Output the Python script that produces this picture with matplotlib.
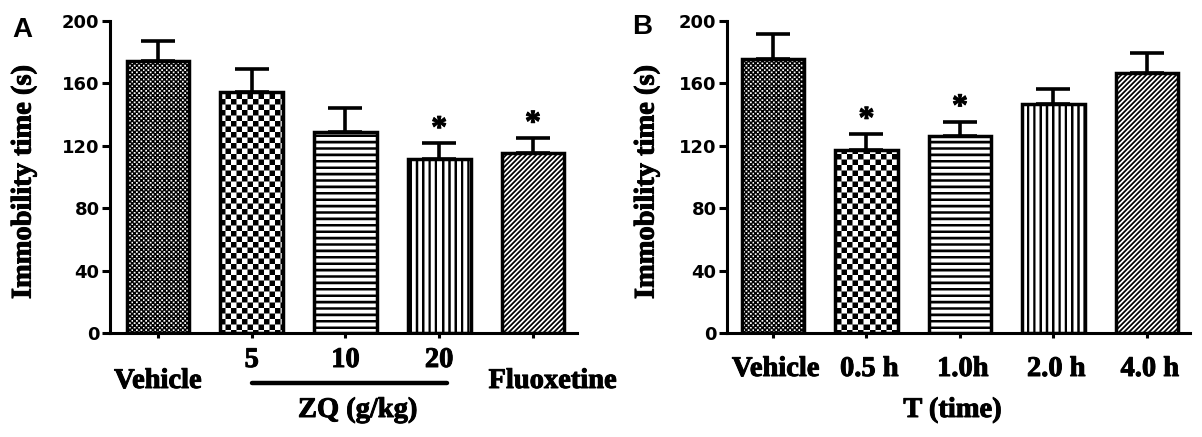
import numpy as np
import matplotlib
matplotlib.use("Agg")
import matplotlib.pyplot as plt
import matplotlib.patheffects as pe
from matplotlib.transforms import blended_transform_factory

# ---- data ----
a_groups = ["Vehicle", "5", "10", "20", "Fluoxetine"]
a_mean = [174.5, 154.5, 129.0, 111.5, 115.5]
a_err = [12.5, 14.5, 15.5, 10.0, 9.5]
a_star = [False, False, False, True, True]

b_groups = ["Vehicle", "0.5 h", "1.0h", "2.0 h", "4.0 h"]
b_mean = [175.5, 117.5, 126.0, 146.5, 166.5]
b_err = [16.0, 10.0, 9.5, 10.0, 13.0]
b_star = [False, True, True, False, False]

fills = ["dots", "checker", "hlines", "vlines", "diag"]
yticks = [0, 40, 80, 120, 160, 200]

W, H = 1202, 437
SERIF = "Liberation Serif"
SANS = "Liberation Sans"
heavy = [pe.withStroke(linewidth=0.7, foreground="black")]


def px_axes(l, r, top, bot):
    return [l / W, 1 - bot / H, (r - l) / W, (bot - top) / H]


def texture(kind, x, y):
    # x, y in pixels (y downward); True where ink
    if kind == "dots":
        c = 2.3
        cx, cy = np.floor(x / c), np.floor(y / c)
        fx, fy = x / c - cx - 0.5, y / c - cy - 0.5
        white = ((cx + cy) % 2 == 0) & (np.abs(fx) < 0.36) & (np.abs(fy) < 0.36)
        return ~white
    if kind == "checker":
        c = 5.5
        return (np.floor(x / c) + np.floor(y / c)) % 2 == 0
    if kind == "hlines":
        return (y % 6.4) < 2.6
    if kind == "vlines":
        return (x % 6.3) < 2.4
    if kind == "diag":
        return ((x + y) % 5.0) < 2.5
    return np.zeros_like(x, dtype=bool)


def fill_bar(ax, bar, kind):
    x0, y0 = bar.get_x(), bar.get_y()
    w, h = bar.get_width(), bar.get_height()
    (px0, py0), (px1, py1) = ax.transData.transform([(x0, y0), (x0 + w, y0 + h)])
    # snap to the pixel grid so the texture is drawn 1:1
    qx0, qx1 = np.floor(px0), np.ceil(px1)
    qy0, qy1 = np.floor(py0), np.ceil(py1)
    ncol, nrow = int(qx1 - qx0), int(qy1 - qy0)
    ss = 4
    xx, yy = np.meshgrid((np.arange(ncol * ss) + 0.5) / ss + qx0,
                         (np.arange(nrow * ss) + 0.5) / ss + (H - qy1))
    ink = texture(kind, xx, yy).astype(float)
    img = ink.reshape(nrow, ss, ncol, ss).mean(axis=(1, 3))
    inv = ax.transData.inverted()
    (ex0, ey0), (ex1, ey1) = inv.transform([(qx0, qy0), (qx1, qy1)])
    ax.imshow(1 - img, cmap="gray", vmin=0, vmax=1, origin="upper",
              extent=(ex0, ex1, ey0, ey1), aspect="auto",
              interpolation="none", zorder=2, clip_path=bar)


def panel(ax, means, errs, stars, xlim):
    x = np.arange(len(means))
    ax.set_xlim(*xlim)
    ax.set_ylim(0, 200)
    ax.errorbar(x, means, yerr=[np.zeros(len(errs)), errs], fmt="none",
                ecolor="black", elinewidth=2.6, capsize=12.5, capthick=2.6,
                zorder=1)
    bars = ax.bar(x, means, width=0.67, facecolor="white", edgecolor="none",
                  zorder=1.5)
    for b, k in zip(bars, fills):
        fill_bar(ax, b, k)
    ax.bar(x, means, width=0.67, fill=False, edgecolor="black",
           linewidth=2.5, zorder=3)
    for xi, m, e, s in zip(x, means, errs, stars):
        if s:
            ax.text(xi, m + e + 4, "*", ha="center", va="baseline",
                    fontsize=23, fontweight="bold", family=SERIF,
                    path_effects=heavy)
    for side in ["top", "right"]:
        ax.spines[side].set_visible(False)
    for side in ["left", "bottom"]:
        ax.spines[side].set_linewidth(2.2)
    ax.set_yticks(yticks)
    ax.set_yticklabels([str(t) for t in yticks], fontsize=13,
                       fontweight="bold", family="DejaVu Sans")
    ax.tick_params(axis="y", direction="out", length=6, width=2.2, pad=1.5)
    ax.set_xticks(x)
    ax.set_xticklabels([])
    ax.tick_params(axis="x", direction="out", length=3.5, width=2.2)
    return x


fig = plt.figure(figsize=(W / 100, H / 100), dpi=100)
axA = fig.add_axes(px_axes(110, 577, 21, 333))
axB = fig.add_axes(px_axes(727, 1190, 21, 333))

xa = panel(axA, a_mean, a_err, a_star, (-0.512, 4.47))
xb = panel(axB, b_mean, b_err, b_star, (-0.492, 4.46))

lab = dict(fontsize=20.5, fontweight="bold", family=SERIF, ha="center",
           va="baseline", path_effects=heavy)

# panel A category labels
tA = blended_transform_factory(axA.transData, fig.transFigure)
axA.text(0, 1 - 388 / H, a_groups[0], transform=tA, **lab)
for xi, g in zip(xa[1:4], a_groups[1:4]):
    axA.text(xi, 1 - 367 / H, g, transform=tA, **lab)
axA.text(4.21, 1 - 388 / H, a_groups[4], transform=tA, **lab)
axA.plot([1.0, 3.08], [1 - 383 / H] * 2, transform=tA, color="black",
         lw=3.2, solid_capstyle="round", clip_on=False)
axA.text(2.13, 1 - 417 / H, "ZQ (g/kg)", transform=tA, **lab)

# panel B category labels
tB = blended_transform_factory(axB.transData, fig.transFigure)
for xi, g in zip(xb, b_groups):
    axB.text(xi + 0.03, 1 - 376 / H, g, transform=tB, **lab)
axB.text(1.92, 1 - 417 / H, "T (time)", transform=tB, **lab)

# y labels and panel letters
for xpx in (24, 647):
    fig.text(xpx / W, 1 - 182 / H, "Immobility time (s)", rotation=90,
             ha="center", va="center", fontsize=20.5, fontweight="bold",
             family=SERIF, path_effects=heavy)
fig.text(12 / W, 1 - 17 / H, "A", ha="left", va="top", fontsize=20,
         fontweight="bold", family=SANS)
fig.text(632 / W, 1 - 14 / H, "B", ha="left", va="top", fontsize=20,
         fontweight="bold", family=SANS)

fig.savefig("out.png", dpi=100)
